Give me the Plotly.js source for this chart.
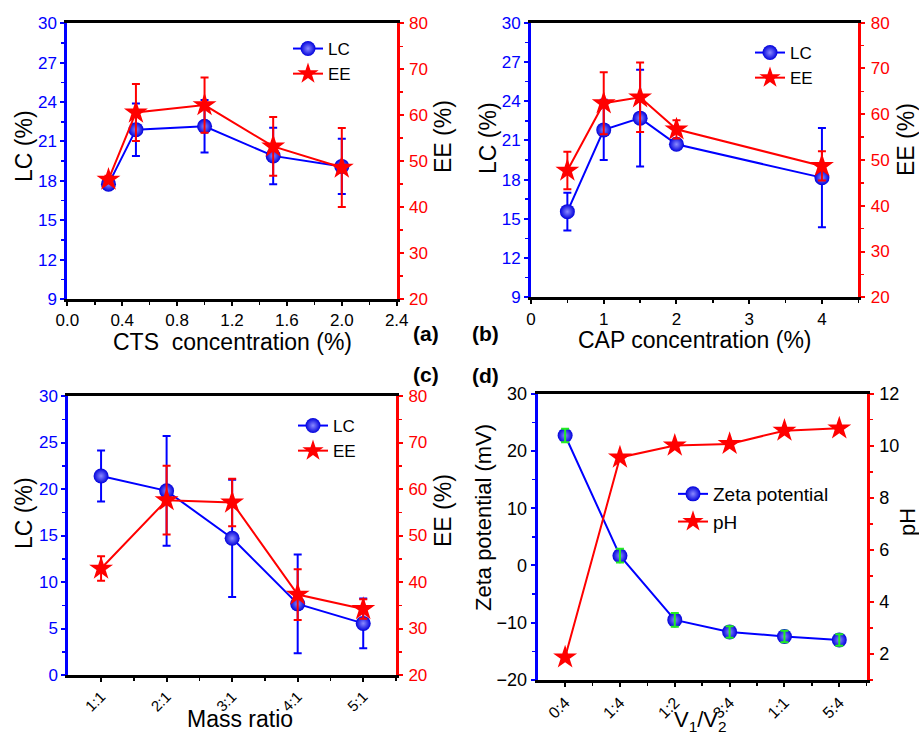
<!DOCTYPE html>
<html>
<head>
<meta charset="utf-8">
<script src="https://cdn.plot.ly/plotly-3.0.1.min.js"></script>
<style>html,body{margin:0;padding:0;background:#fff;}#chart{width:919px;height:736px;}</style>
</head>
<body>
<div id="chart"></div>
<script>
// ---- Data ----
const ctsConc = [0.3, 0.5, 1.0, 1.5, 2.0];
const ctsLC = [17.75, 21.9, 22.15, 19.9, 19.1];
const ctsLCErr = [0.3, 2.0, 2.0, 2.15, 2.1];
const ctsEE = [46.0, 60.6, 62.2, 53.2, 48.6];
const ctsEEErr = [0.8, 6.2, 6.0, 6.4, 8.6];

const capConc = [0.5, 1, 1.5, 2, 4];
const capLC = [15.55, 21.8, 22.7, 20.7, 18.15];
const capLCErr = [1.45, 2.3, 3.7, 0.3, 3.8];
const capEE = [47.7, 62.4, 63.7, 56.7, 48.7];
const capEEErr = [4.1, 6.8, 7.6, 2.0, 3.2];

const massRatio = ['1:1', '2:1', '3:1', '4:1', '5:1'];
const massLC = [21.4, 19.8, 14.7, 7.65, 5.55];
const massLCErr = [2.75, 5.9, 6.3, 5.3, 2.67];
const massEE = [42.9, 57.6, 57.1, 37.3, 34.2];
const massEEErr = [2.65, 7.4, 5.1, 5.45, 2.1];

const vRatio = ['0:4', '1:4', '1:2', '3:4', '1:1', '5:4'];
const zeta = [22.7, 1.7, -9.5, -11.6, -12.4, -13.0];
const zetaErr = [1.2, 1.2, 1.2, 1.0, 1.0, 1.0];
const pH = [1.87, 9.55, 10.01, 10.07, 10.58, 10.67];

// ---- Styles ----
const BLUE = '#0000ff', RED = '#ff0000', GREEN = '#22ee22';
const FONT = 'Liberation Sans, Arial, sans-serif';
const sphere = {symbol: 'circle', size: 15, color: '#0000dc', line: {width: 0},
  gradient: {type: 'radial', color: '#8a8aff'}};
const star = {symbol: 'star', size: 18, color: RED, line: {width: 0}};

function err(arr, color) {
  return {type: 'data', array: arr, visible: true, color: color, thickness: 2, width: 4};
}
const massIdx = massRatio.map((_, i) => i);
const vIdx = vRatio.map((_, i) => i);

const traces = [
  // (a)
  {x: ctsConc, y: ctsLC, error_y: err(ctsLCErr, BLUE), name: 'LC', mode: 'lines+markers',
   line: {color: BLUE, width: 2}, marker: sphere, xaxis: 'x', yaxis: 'y', legend: 'legend'},
  {x: ctsConc, y: ctsEE, error_y: err(ctsEEErr, RED), name: 'EE', mode: 'lines+markers',
   line: {color: RED, width: 2}, marker: star, xaxis: 'x', yaxis: 'y2', legend: 'legend'},
  // (b)
  {x: capConc, y: capLC, error_y: err(capLCErr, BLUE), name: 'LC', mode: 'lines+markers',
   line: {color: BLUE, width: 2}, marker: sphere, xaxis: 'x2', yaxis: 'y3', legend: 'legend2'},
  {x: capConc, y: capEE, error_y: err(capEEErr, RED), name: 'EE', mode: 'lines+markers',
   line: {color: RED, width: 2}, marker: star, xaxis: 'x2', yaxis: 'y4', legend: 'legend2'},
  // (c)
  {x: massIdx, y: massLC, error_y: err(massLCErr, BLUE), name: 'LC', mode: 'lines+markers',
   line: {color: BLUE, width: 2}, marker: sphere, xaxis: 'x3', yaxis: 'y5', legend: 'legend3'},
  {x: massIdx, y: massEE, error_y: err(massEEErr, RED), name: 'EE', mode: 'lines+markers',
   line: {color: RED, width: 2}, marker: star, xaxis: 'x3', yaxis: 'y6', legend: 'legend3'},
  // (d)
  {x: vIdx, y: zeta, name: 'Zeta potential', mode: 'lines+markers',
   line: {color: BLUE, width: 2}, marker: sphere, xaxis: 'x4', yaxis: 'y7', legend: 'legend4'},
  {x: vIdx, y: zeta, error_y: err(zetaErr, GREEN), mode: 'markers', showlegend: false, hoverinfo: 'skip',
   marker: {size: 1, color: 'rgba(0,0,0,0)'}, xaxis: 'x4', yaxis: 'y7'},
  {x: vIdx, y: pH, name: 'pH', mode: 'lines+markers',
   line: {color: RED, width: 2}, marker: star, xaxis: 'x4', yaxis: 'y8', legend: 'legend4'}
];

const W = 919, H = 736;
const dx = (a, b) => [a / W, b / W];
const dy = (top, bot) => [1 - bot / H, 1 - top / H];

function xax(domain, anchor, range, extra) {
  return Object.assign({
    domain: domain, anchor: anchor, range: range, showline: true, linecolor: 'black', linewidth: 3,
    mirror: true, ticks: 'outside', ticklen: 4, tickwidth: 2, tickcolor: 'black',
    showgrid: false, zeroline: false, tickfont: {size: 17, color: 'black', family: FONT}
  }, extra);
}
function yax(domain, anchor, range, dtick, color, tickcolor, extra) {
  return Object.assign({
    domain: domain, anchor: anchor, range: range, dtick: dtick, showline: true, linecolor: color,
    linewidth: 3, ticks: 'outside', ticklen: 4, tickwidth: 2, tickcolor: color,
    minor: {dtick: dtick / 2, ticks: 'outside', ticklen: 3, tickwidth: 1.5, tickcolor: color},
    showgrid: false, zeroline: false, tickfont: {size: 17, color: tickcolor, family: FONT}
  }, extra);
}

const dA = dx(67.3, 396.7), vA = dy(23.3, 299);
const dB = dx(531, 858.3), vB = dy(22.7, 297.3);
const dC = dx(68.3, 396), vC = dy(396, 675);
const dD = dx(537.7, 866.7), vD = dy(393.7, 680);

const legendBase = {bgcolor: 'rgba(0,0,0,0)', borderwidth: 0, xanchor: 'left', yanchor: 'top',
  font: {size: 17, color: 'black', family: FONT}, tracegroupgap: 0};
const minorX = (vals) => ({tickmode: 'array', tickvals: vals, ticks: 'outside', ticklen: 3, tickwidth: 1.5, tickcolor: 'black'});

// axis titles and panel labels (pixel positions)
const titles = [
  {text: 'CTS  concentration (%)', px: 232, py: 342, size: 23},
  {text: 'LC (%)', px: 24, py: 146, size: 23, angle: -90},
  {text: 'EE (%)', px: 443, py: 137, size: 23, angle: -90},
  {text: 'CAP concentration (%)', px: 695, py: 340, size: 23},
  {text: 'LC (%)', px: 488, py: 138, size: 23, angle: -90},
  {text: 'EE (%)', px: 906, py: 140, size: 23, angle: -90},
  {text: 'Mass ratio', px: 240, py: 719, size: 23},
  {text: 'LC (%)', px: 24, py: 513, size: 23, angle: -90},
  {text: 'EE (%)', px: 443, py: 511, size: 23, angle: -90},
  {text: 'V<sub>1</sub>/V<sub>2</sub>', px: 700, py: 705, size: 22, ya: 'top'},
  {text: 'Zeta potential (mV)', px: 483, py: 517, size: 22, angle: -90},
  {text: 'pH', px: 907, py: 522, size: 22, angle: -90},
  {text: '<b>(a)</b>', px: 426, py: 333, size: 21},
  {text: '<b>(b)</b>', px: 485, py: 333, size: 21},
  {text: '<b>(c)</b>', px: 426, py: 374, size: 21},
  {text: '<b>(d)</b>', px: 485, py: 375, size: 21}
];

const layout = {
  width: W, height: H, margin: {l: 0, r: 0, t: 0, b: 0},
  paper_bgcolor: 'white', plot_bgcolor: 'white', font: {family: FONT},
  showlegend: true,
  // (a)
  xaxis: xax(dA, 'y', [0, 2.4], {dtick: 0.4, tickformat: '.1f',
    minor: {dtick: 0.2, ticks: 'outside', ticklen: 3, tickwidth: 1.5, tickcolor: 'black'}}),
  yaxis: yax(vA, 'x', [9, 30], 3, BLUE, BLUE, {}),
  yaxis2: yax(vA, 'x', [20, 80], 10, RED, RED, {overlaying: 'y', side: 'right', ticklabelstandoff: 2}),
  // (b)
  xaxis2: xax(dB, 'y3', [0, 4.5], {dtick: 1,
    minor: {dtick: 0.5, ticks: 'outside', ticklen: 3, tickwidth: 1.5, tickcolor: 'black'}}),
  yaxis3: yax(vB, 'x2', [9, 30], 3, BLUE, BLUE, {}),
  yaxis4: yax(vB, 'x2', [20, 80], 10, RED, RED, {overlaying: 'y3', side: 'right', ticklabelstandoff: 2}),
  // (c)
  xaxis3: xax(dC, 'y5', [-0.5, 4.5], {tickmode: 'array', tickvals: massIdx, ticktext: massRatio, tickangle: -45,
    tickfont: {size: 15, color: 'black', family: FONT}, minor: minorX(massIdx.map(i => i + 0.5))}),
  yaxis5: yax(vC, 'x3', [0, 30], 5, BLUE, BLUE, {}),
  yaxis6: yax(vC, 'x3', [20, 80], 10, RED, RED, {overlaying: 'y5', side: 'right', ticklabelstandoff: 2}),
  // (d)
  xaxis4: xax(dD, 'y7', [-0.5, 5.5], {tickmode: 'array', tickvals: vIdx, ticktext: vRatio, tickangle: -45,
    tickfont: {size: 16, color: 'black', family: FONT}, minor: minorX(vIdx.map(i => i + 0.5))}),
  yaxis7: yax(vD, 'x4', [-20, 30], 10, BLUE, 'black', {tickfont: {size: 18, color: 'black', family: FONT}}),
  yaxis8: yax(vD, 'x4', [1, 12], 2, RED, 'black', {overlaying: 'y7', side: 'right', tick0: 0, ticklabelstandoff: 2,
    tickfont: {size: 18, color: 'black', family: FONT},
    minor: {dtick: 1, tick0: 0, ticks: 'outside', ticklen: 3, tickwidth: 1.5, tickcolor: RED}}),
  legend: Object.assign({}, legendBase, {x: 288 / W, y: 1 - 31 / H}),
  legend2: Object.assign({}, legendBase, {x: 750 / W, y: 1 - 35 / H}),
  legend3: Object.assign({}, legendBase, {x: 293 / W, y: 1 - 408 / H}),
  legend4: Object.assign({}, legendBase, {x: 673 / W, y: 1 - 475 / H, font: {size: 19, color: 'black', family: FONT}}),
  annotations: titles.map(t => ({
    text: t.text, x: t.px / W, y: 1 - t.py / H, xref: 'paper', yref: 'paper', showarrow: false,
    xanchor: 'center', yanchor: t.ya || 'middle', textangle: t.angle || 0,
    font: {size: t.size, color: 'black', family: FONT}
  }))
};

Plotly.newPlot('chart', traces, layout, {displayModeBar: false, staticPlot: true});
</script>
</body>
</html>
